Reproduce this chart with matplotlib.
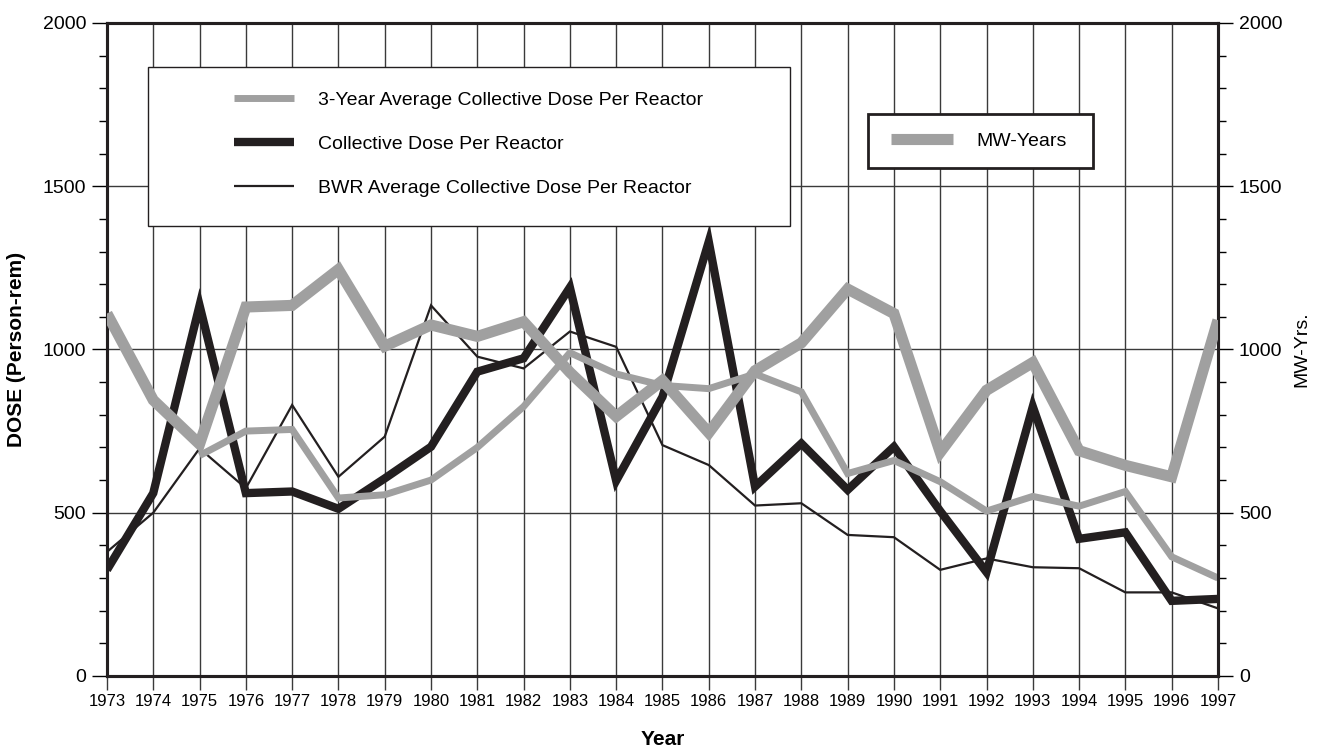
import numpy as np
import matplotlib
matplotlib.use("Agg")
import matplotlib.pyplot as plt
from matplotlib.patches import Rectangle

plt.rcParams['font.family'] = ['Liberation Sans Narrow', 'Liberation Sans', 'DejaVu Sans']

# values
years = list(range(1973, 1998))
mw_years = [1110, 845, 710, 1130, 1135, 1245, 1010, 1075, 1040, 1085, 930, 795, 905,
            745, 935, 1020, 1185, 1110, 685, 875, 960, 690, 645, 610, 1090]
three_yr_avg = [np.nan, np.nan, 675, 750, 755, 545, 555, 600, 700, 825, 990, 925, 890,
                880, 925, 870, 620, 660, 595, 505, 550, 520, 565, 365, 300]
collective = [325, 560, 1135, 560, 565, 512, 605, 702, 932, 973, 1190, 598, 855,
              1330, 580, 712, 570, 702, 505, 318, 825, 420, 440, 230, 236]
bwr_avg = [380, 500, 697, 575, 830, 610, 733, 1135, 978, 942, 1055, 1008, 707,
           646, 522, 529, 432, 425, 325, 360, 333, 330, 256, 256, 207]

GRAY = '#a0a0a0'
BLACK = '#231f20'
GRID = '#3a3a3a'

fig = plt.figure(figsize=(13.19, 7.53), dpi=100)
ax = fig.add_axes([0.0811, 0.1023, 0.8423, 0.8672])
ax2 = ax.twinx()

line_kw = dict(solid_joinstyle='miter', solid_capstyle='butt')
l_bwr, = ax.plot(years, bwr_avg, color=BLACK, lw=1.6, zorder=3, **line_kw,
                 label='BWR Average Collective Dose Per Reactor')
l_col, = ax.plot(years, collective, color=BLACK, lw=6, zorder=4, **line_kw,
                 label='Collective Dose Per Reactor')
l_avg, = ax.plot(years, three_yr_avg, color=GRAY, lw=5, zorder=5, **line_kw,
                 label='3-Year Average Collective Dose Per Reactor')
l_mw, = ax2.plot(years, mw_years, color=GRAY, lw=8, zorder=5, **line_kw,
                 label='MW-Years')

for a in (ax, ax2):
    a.set_xlim(1973, 1997)
    a.set_ylim(0, 2000)
    a.set_yticks(np.arange(0, 2001, 500))
    a.set_yticks(np.arange(0, 2001, 100), minor=True)
    for s in a.spines.values():
        s.set_linewidth(2.2)
        s.set_color(BLACK)

ax.set_xticks(years)
ax.set_xticklabels([str(y) for y in years])
ax.tick_params(axis='x', length=10, width=1.0, color=GRID, labelsize=12, pad=3)
ax.tick_params(axis='y', which='major', length=11, width=1.0, labelsize=14, pad=4)
ax.tick_params(axis='y', which='minor', length=6, width=1.0)
ax2.tick_params(axis='y', which='major', length=11, width=1.0, labelsize=14, pad=4)
ax2.tick_params(axis='y', which='minor', length=6, width=1.0)

ax.grid(True, which='major', color=GRID, lw=1.0)
ax.set_axisbelow(True)

ax.set_ylabel('DOSE (Person-rem)', fontsize=15, fontweight='bold')
ax.yaxis.set_label_coords(-0.073, 0.5)
ax.set_xlabel('Year', fontsize=15, fontweight='bold')
ax.xaxis.set_label_coords(0.5, -0.083)
ax2.set_ylabel('MW-Yrs.', fontsize=14)
ax2.yaxis.set_label_coords(1.068, 0.5)

# legend boxes
ax.add_patch(Rectangle((0.0369, 0.6891), 0.5779, 0.2435, transform=ax.transAxes,
                       facecolor='white', edgecolor=BLACK, lw=1.0, zorder=6))
leg1 = ax.legend(handles=[l_avg, l_col, l_bwr], loc='center',
                 bbox_to_anchor=(0.3254, 0.8147), frameon=False, fontsize=14,
                 handlelength=3.1, handletextpad=1.2, labelspacing=1.35)
leg1.set_zorder(7)

ax2.add_patch(Rectangle((0.685, 0.7779), 0.2025, 0.0827, transform=ax2.transAxes,
                        facecolor='white', edgecolor=BLACK, lw=2.0, zorder=6))
leg2 = ax2.legend(handles=[l_mw], loc='center', bbox_to_anchor=(0.785, 0.8193),
                  frameon=False, fontsize=14, handlelength=3.2, handletextpad=1.2)
leg2.set_zorder(7)

fig.savefig('out.png', dpi=100)
